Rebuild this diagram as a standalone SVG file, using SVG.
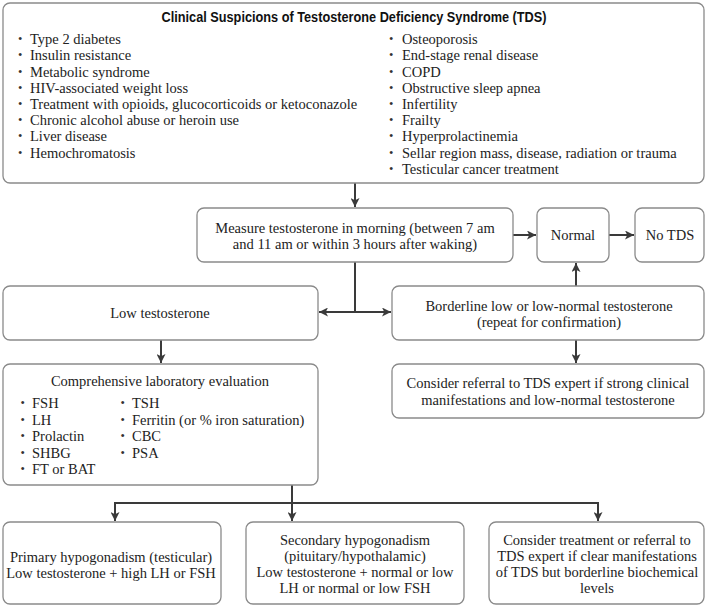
<svg xmlns="http://www.w3.org/2000/svg" width="707" height="607" viewBox="0 0 707 607">
<defs>
<marker id="ah" viewBox="0 0 10 10" refX="10" refY="5" markerWidth="9" markerHeight="9" markerUnits="userSpaceOnUse" orient="auto">
<path d="M0,0 L10,5 L0,10 L2.5,5 Z" fill="#3a3a3a"/>
</marker>
<style>
.box{fill:#fff;stroke:#8a8a8a;stroke-width:1.3}
.t{font-family:"Liberation Serif","Times New Roman",serif;font-size:14.5px;fill:#222}
.c{text-anchor:middle}
.b{font-family:"Liberation Serif",serif;font-size:12.5px;fill:#333}
.ttl{font-family:"Liberation Sans",Arial,sans-serif;font-size:15px;font-weight:bold;fill:#111;text-anchor:middle}
.ln{fill:none;stroke:#3a3a3a;stroke-width:2}
</style>
</defs>
<rect width="707" height="607" fill="#fff"/>

<g id="connectors">
<line class="ln" x1="355" y1="183" x2="355" y2="207" marker-end="url(#ah)"/>
<line class="ln" x1="513" y1="235" x2="536" y2="235" marker-end="url(#ah)"/>
<line class="ln" x1="609" y1="235" x2="634" y2="235" marker-end="url(#ah)"/>
<path class="ln" d="M355,262 V312"/>
<line class="ln" x1="356" y1="312" x2="319" y2="312" marker-end="url(#ah)"/>
<line class="ln" x1="354" y1="312" x2="391" y2="312" marker-end="url(#ah)"/>
<line class="ln" x1="576" y1="286" x2="576" y2="263" marker-end="url(#ah)"/>
<line class="ln" x1="576" y1="340" x2="576" y2="363" marker-end="url(#ah)"/>
<line class="ln" x1="161" y1="340" x2="161" y2="363" marker-end="url(#ah)"/>
<path class="ln" d="M292,485 V503 M114,503 H599"/>
<line class="ln" x1="115" y1="502" x2="115" y2="521" marker-end="url(#ah)"/>
<line class="ln" x1="292" y1="502" x2="292" y2="521" marker-end="url(#ah)"/>
<line class="ln" x1="598" y1="502" x2="598" y2="521" marker-end="url(#ah)"/>
</g>

<g id="suspicions">
<rect class="box" x="3" y="3" width="701" height="180" rx="7"/>
<text class="ttl" x="354" y="22" textLength="385" lengthAdjust="spacingAndGlyphs">Clinical Suspicions of Testosterone Deficiency Syndrome (TDS)</text>
<g class="b">
<text x="18" y="43">•</text><text x="18" y="59">•</text><text x="18" y="76">•</text><text x="18" y="92">•</text><text x="18" y="108">•</text><text x="18" y="124">•</text><text x="18" y="140">•</text><text x="18" y="157">•</text>
<text x="389" y="43">•</text><text x="389" y="59">•</text><text x="389" y="76">•</text><text x="389" y="92">•</text><text x="389" y="108">•</text><text x="389" y="124">•</text><text x="389" y="140">•</text><text x="389" y="157">•</text><text x="389" y="173">•</text>
</g>
<g class="t">
<text x="30" y="44">Type 2 diabetes</text>
<text x="30" y="60">Insulin resistance</text>
<text x="30" y="77">Metabolic syndrome</text>
<text x="30" y="93">HIV-associated weight loss</text>
<text x="30" y="109">Treatment with opioids, glucocorticoids or ketoconazole</text>
<text x="30" y="125">Chronic alcohol abuse or heroin use</text>
<text x="30" y="141">Liver disease</text>
<text x="30" y="158">Hemochromatosis</text>
<text x="402" y="44">Osteoporosis</text>
<text x="402" y="60">End-stage renal disease</text>
<text x="402" y="77">COPD</text>
<text x="402" y="93">Obstructive sleep apnea</text>
<text x="402" y="109">Infertility</text>
<text x="402" y="125">Frailty</text>
<text x="402" y="141">Hyperprolactinemia</text>
<text x="402" y="158">Sellar region mass, disease, radiation or trauma</text>
<text x="402" y="174">Testicular cancer treatment</text>
</g>
</g>

<g id="measure">
<rect class="box" x="197" y="208" width="316" height="54" rx="7"/>
<text class="t c" x="355" y="232.5">Measure testosterone in morning (between 7 am</text>
<text class="t c" x="355" y="248.5">and 11 am or within 3 hours after waking)</text>
</g>

<g id="normal">
<rect class="box" x="537" y="208" width="72" height="54" rx="7"/>
<text class="t c" x="573" y="240">Normal</text>
</g>

<g id="notds">
<rect class="box" x="635" y="208" width="69" height="54" rx="7"/>
<text class="t c" x="670" y="240">No TDS</text>
</g>

<g id="low">
<rect class="box" x="3" y="286" width="315" height="54" rx="7"/>
<text class="t c" x="160" y="318">Low testosterone</text>
</g>

<g id="borderline">
<rect class="box" x="392" y="286" width="312" height="54" rx="7"/>
<text class="t c" x="549" y="311">Borderline low or low-normal testosterone</text>
<text class="t c" x="549" y="327">(repeat for confirmation)</text>
</g>

<g id="referral">
<rect class="box" x="392" y="364" width="312" height="54" rx="7"/>
<text class="t c" x="548" y="388">Consider referral to TDS expert if strong clinical</text>
<text class="t c" x="548" y="405">manifestations and low-normal testosterone</text>
</g>

<g id="labeval">
<rect class="box" x="3" y="364" width="315" height="121" rx="7"/>
<text class="t c" x="160" y="386">Comprehensive laboratory evaluation</text>
<g class="b">
<text x="20.5" y="407">•</text><text x="20.5" y="424">•</text><text x="20.5" y="440">•</text><text x="20.5" y="456.5">•</text><text x="20.5" y="473">•</text>
<text x="120.5" y="407">•</text><text x="120.5" y="424">•</text><text x="120.5" y="440">•</text><text x="120.5" y="456.5">•</text>
</g>
<g class="t">
<text x="32" y="408">FSH</text>
<text x="32" y="425">LH</text>
<text x="32" y="441">Prolactin</text>
<text x="32" y="457.5">SHBG</text>
<text x="32" y="474">FT or BAT</text>
<text x="132" y="408">TSH</text>
<text x="132" y="425">Ferritin (or % iron saturation)</text>
<text x="132" y="441">CBC</text>
<text x="132" y="457.5">PSA</text>
</g>
</g>

<g id="primary">
<rect class="box" x="3" y="522" width="218" height="82" rx="7"/>
<text class="t c" x="111" y="561.5">Primary hypogonadism (testicular)</text>
<text class="t c" x="111" y="577.5">Low testosterone + high LH or FSH</text>
</g>

<g id="secondary">
<rect class="box" x="246" y="522" width="218" height="82" rx="7"/>
<text class="t c" x="355" y="545">Secondary hypogonadism</text>
<text class="t c" x="355" y="561">(pituitary/hypothalamic)</text>
<text class="t c" x="355" y="577">Low testosterone + normal or low</text>
<text class="t c" x="355" y="593">LH or normal or low FSH</text>
</g>

<g id="treatment">
<rect class="box" x="489" y="522" width="215" height="82" rx="7"/>
<text class="t c" x="597" y="545">Consider treatment or referral to</text>
<text class="t c" x="597" y="561">TDS expert if clear manifestations</text>
<text class="t c" x="597" y="577">of TDS but borderline biochemical</text>
<text class="t c" x="597" y="593">levels</text>
</g>
</svg>
